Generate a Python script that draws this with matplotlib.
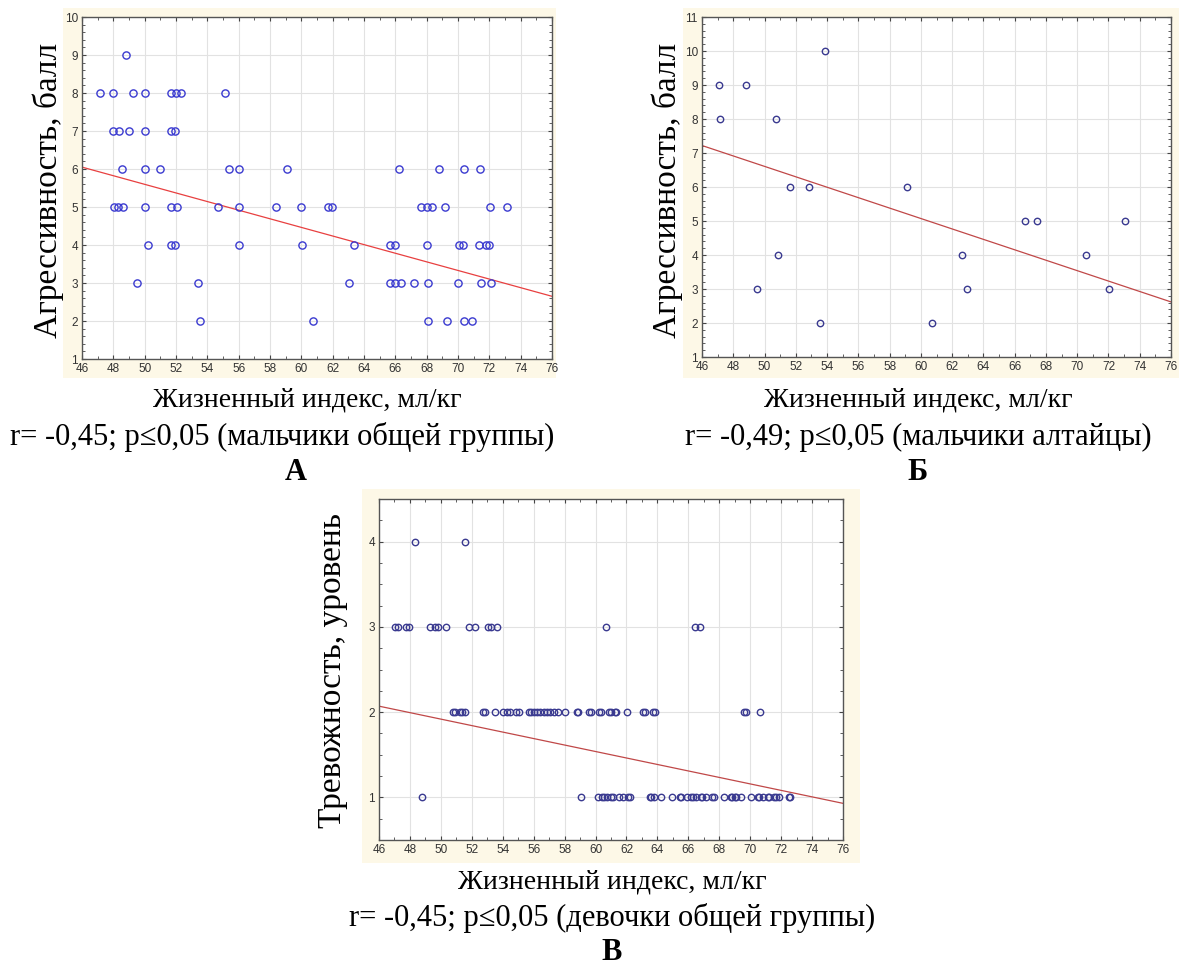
import matplotlib
matplotlib.use("Agg")
import matplotlib.pyplot as plt
from matplotlib.patches import Rectangle
from matplotlib.ticker import MultipleLocator, AutoMinorLocator
import numpy as np

# А: мальчики общей группы (жизненный индекс, агрессивность)
boys_all_index = [48.8,
                  47.17, 47.96, 49.28, 50.0, 51.66, 52.0, 52.34, 55.1,
                  47.96, 48.34, 49.02, 50.04, 51.7, 51.94,
                  48.57, 50.0, 50.98, 55.4, 56.04, 59.06, 66.26, 68.78, 70.38, 71.38,
                  48.04, 48.28, 48.64, 50.0, 51.7, 52.06, 54.66, 56.0, 58.38, 59.96,
                  61.72, 61.94, 67.65, 68.01, 68.35, 69.2, 72.06, 73.1,
                  50.21, 51.7, 51.96, 56.0, 60.04, 63.36, 65.69, 65.97, 68.01, 70.06,
                  70.32, 71.32, 71.77, 72.0,
                  49.51, 53.38, 63.04, 65.65, 65.99, 66.33, 67.22, 68.06, 70.02, 71.45, 72.13,
                  53.51, 60.74, 68.06, 69.31, 70.36, 70.87]
boys_all_aggr = [9,
                 8, 8, 8, 8, 8, 8, 8, 8,
                 7, 7, 7, 7, 7, 7,
                 6, 6, 6, 6, 6, 6, 6, 6, 6, 6,
                 5, 5, 5, 5, 5, 5, 5, 5, 5, 5,
                 5, 5, 5, 5, 5, 5, 5, 5,
                 4, 4, 4, 4, 4, 4, 4, 4, 4, 4,
                 4, 4, 4, 4,
                 3, 3, 3, 3, 3, 3, 3, 3, 3, 3, 3,
                 2, 2, 2, 2, 2, 2]

# Б: мальчики алтайцы
boys_alt_index = [53.84, 47.09, 48.8, 47.18, 50.73, 51.61, 52.87, 59.1,
                  66.63, 67.42, 73.05, 50.86, 62.62, 70.56, 49.53, 62.96, 72.06,
                  53.52, 60.7]
boys_alt_aggr = [10, 9, 9, 8, 8, 6, 6, 6,
                 5, 5, 5, 4, 4, 4, 3, 3, 3,
                 2, 2]

# В: девочки общей группы, по уровням тревожности
girls_anx4 = [48.31, 51.59]
girls_anx3 = [47.02, 47.21, 47.75, 47.97, 49.28, 49.65, 49.82, 50.34, 51.81, 52.2,
              53.06, 53.24, 53.65, 60.69, 66.41, 66.76]
girls_anx2 = [50.78, 50.91, 51.21, 51.36, 51.55, 52.72, 52.83, 53.47, 54.02, 54.28,
              54.45, 54.88, 55.05, 55.70, 55.83, 56.04, 56.22, 56.43, 56.65, 56.87,
              57.08, 57.34, 57.6, 58.05, 58.77, 58.85, 59.57, 59.72, 60.21, 60.37,
              60.86, 61.02, 61.23, 61.32, 62.05, 63.04, 63.17, 63.74, 63.82,
              69.62, 69.75, 70.65]
girls_anx1 = [48.79, 59.07, 60.17, 60.43, 60.55, 60.75, 61.01, 61.1, 61.51, 61.79,
              62.12, 62.2, 63.52, 63.6, 63.78, 64.21, 64.92, 65.46, 65.55, 65.9,
              66.2, 66.3, 66.48, 66.8, 66.9, 67.13, 67.56, 67.65, 68.32, 68.75,
              68.85, 69.01, 69.1, 69.4, 70.04, 70.48, 70.55, 70.8, 71.12, 71.2,
              71.56, 71.65, 71.88, 72.49, 72.59]

# линии регрессии: значения на краях оси (x = 46 и x = 76)
fit_x = [46, 76]
fit_a = [6.05, 2.65]
fit_b = [7.22, 2.62]
fit_c = [2.07, 0.93]

W, H = 1183, 965
fig = plt.figure(figsize=(W / 100, H / 100), dpi=100)
serif = ['Liberation Serif', 'DejaVu Serif']
sans = ['Liberation Sans', 'DejaVu Sans']


def cream(l, t, r, b):
    fig.patches.append(Rectangle((l / W, 1 - b / H), (r - l) / W, (b - t) / H,
                                 transform=fig.transFigure, facecolor='#fdf8e7',
                                 edgecolor='none', zorder=-5))


def panel(l, t, r, b, x, y, fit, ylim, yminor, mcolor, lcolor, ms):
    ax = fig.add_axes([l / W, 1 - b / H, (r - l) / W, (b - t) / H])
    ax.set_facecolor('white')
    ax.plot(x, y, 'o', mfc='none', mec=mcolor, mew=1.0, ms=ms, zorder=3)
    ax.plot(fit_x, fit, color=lcolor, lw=0.9, zorder=2)
    ax.set_xlim(46, 76)
    ax.set_ylim(*ylim)
    ax.xaxis.set_major_locator(MultipleLocator(2))
    ax.xaxis.set_minor_locator(AutoMinorLocator(2))
    ax.yaxis.set_major_locator(MultipleLocator(1))
    ax.yaxis.set_minor_locator(AutoMinorLocator(yminor))
    ax.grid(True, which='major', color='#e2e2e2', lw=0.8)
    ax.set_axisbelow(True)
    ax.tick_params(which='both', direction='in', top=True, right=True,
                   colors='#444444', labelsize=8.5, pad=3)
    ax.tick_params(which='major', length=3)
    ax.tick_params(which='minor', length=2)
    for lab in ax.get_xticklabels() + ax.get_yticklabels():
        lab.set_family(sans)
        lab.set_color('#333333')
    for s in ax.spines.values():
        s.set_color('#555555')
        s.set_linewidth(1.0)
    return ax


def text(x, y, s, size, **kw):
    fig.text(x / W, 1 - y / H, s, fontsize=size, family=serif,
             ha='center', va='center', **kw)


# А
cream(63, 8, 556, 378)
panel(82, 17, 552, 359, boys_all_index, boys_all_aggr, fit_a, (1, 10), 5,
      '#3a3ad0', '#e84040', 5.2)
text(48, 190, 'Агрессивность, балл', 24, rotation=90)
text(307, 400, 'Жизненный индекс, мл/кг', 20)
text(282, 437, 'r= -0,45; p≤0,05 (мальчики общей группы)', 22)
text(296, 472, 'А', 22, weight='bold')

# Б
cream(683, 8, 1179, 378)
panel(702, 17, 1171, 357, boys_alt_index, boys_alt_aggr, fit_b, (1, 11), 5,
      '#3a3a90', '#c04848', 4.6)
text(667, 190, 'Агрессивность, балл', 24, rotation=90)
text(918, 400, 'Жизненный индекс, мл/кг', 20)
text(918, 437, 'r= -0,49; p≤0,05 (мальчики алтайцы)', 22)
text(918, 472, 'Б', 22, weight='bold')

# В
girls_index = girls_anx4 + girls_anx3 + girls_anx2 + girls_anx1
girls_level = ([4] * len(girls_anx4) + [3] * len(girls_anx3)
               + [2] * len(girls_anx2) + [1] * len(girls_anx1))
cream(362, 489, 860, 863)
panel(379, 499, 843, 840, girls_index, girls_level, fit_c, (0.5, 4.5), 4,
      '#3a3a90', '#c04848', 4.6)
text(333, 670, 'Тревожность, уровень', 24, rotation=90)
text(612, 882, 'Жизненный индекс, мл/кг', 20)
text(612, 918, 'r= -0,45; p≤0,05 (девочки общей группы)', 22)
text(612, 952, 'В', 22, weight='bold')

fig.savefig('out.png', dpi=100, facecolor='white')
